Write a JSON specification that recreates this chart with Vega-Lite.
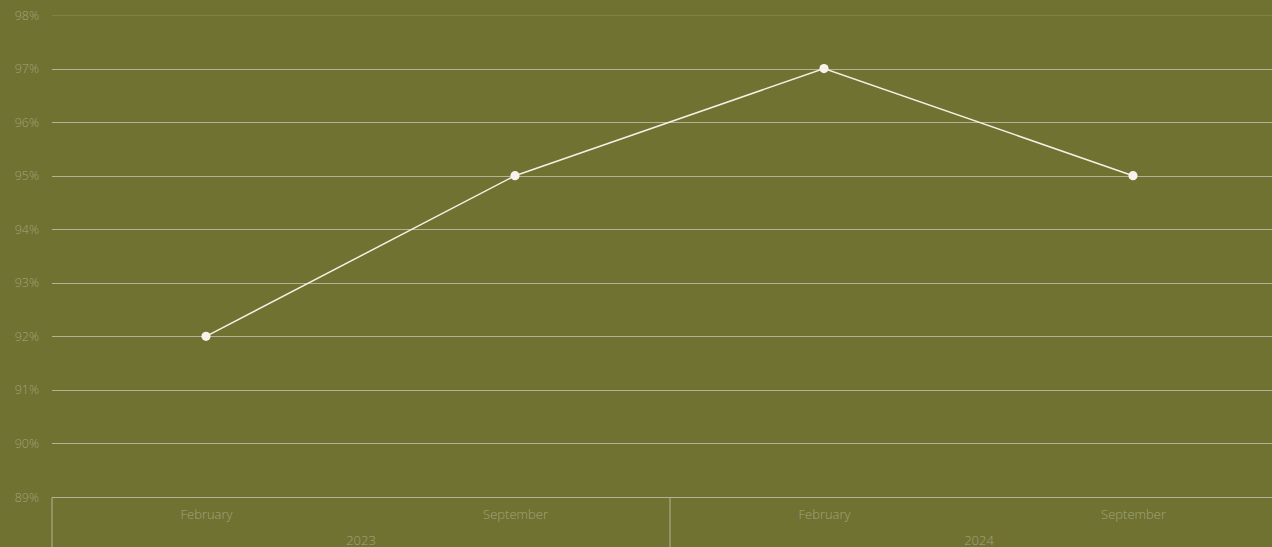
{
  "$schema": "https://vega.github.io/schema/vega-lite/v6.json",
  "autosize": "none",
  "width": 1236,
  "height": 482,
  "padding": {"left": 51.5, "top": 15, "right": 0, "bottom": 50},
  "background": "#6f7230",
  "config": {
    "view": {"stroke": null},
    "font": "Open Sans",
    "axis": {"labelFont": "Open Sans", "labelFontWeight": 300}
  },
  "data": {
    "values": [
      {"period": "February 2023", "year": "2023", "value": 0.92},
      {"period": "September 2023", "year": "2023", "value": 0.95},
      {"period": "February 2024", "year": "2024", "value": 0.97},
      {"period": "September 2024", "year": "2024", "value": 0.95}
    ]
  },
  "layer": [
    {
      "layer": [
        {
          "mark": {"type": "line", "stroke": "#f5f0e6", "strokeWidth": 1.5}
        },
        {
          "mark": {"type": "point", "filled": true, "fill": "#f7f3ec", "opacity": 1, "size": 85}
        }
      ],
      "encoding": {
        "x": {
          "field": "period", "type": "ordinal", "sort": null,
          "scale": {"type": "point", "padding": 0.5},
          "axis": {
            "title": null, "orient": "bottom", "domain": false, "ticks": false, "grid": false,
            "labelAngle": 0, "labelPadding": 11, "labelFontSize": 13, "labelColor": "#a2a47f",
            "labelExpr": "split(datum.label, ' ')[0]"
          }
        },
        "y": {
          "field": "value", "type": "quantitative",
          "scale": {"domain": [0.89, 0.98], "nice": false, "zero": false},
          "axis": {
            "title": null, "format": ".0%", "values": [0.89, 0.9, 0.91, 0.92, 0.93, 0.94, 0.95, 0.96, 0.97, 0.98],
            "domain": false, "ticks": false, "labelPadding": 13, "labelFontSize": 12.5, "labelColor": "#a2a47f",
            "gridColor": {"condition": {"test": "datum.value >= 0.98", "value": "#7f8442"}, "value": "#b2b497"},
            "gridWidth": 1
          }
        }
      }
    },
    {
      "mark": {"type": "point", "opacity": 0},
      "encoding": {
        "x": {
          "field": "year", "type": "ordinal",
          "scale": {"type": "band", "paddingInner": 0, "paddingOuter": 0},
          "axis": {
            "title": null, "orient": "bottom", "domain": false, "grid": false,
            "ticks": true, "tickBand": "extent", "tickSize": 60, "tickColor": "#b2b497", "tickWidth": 1,
            "labelAngle": 0, "labelPadding": -23, "labelFontSize": 13, "labelColor": "#a2a47f"
          }
        },
        "y": {"field": "value", "type": "quantitative"}
      }
    }
  ],
  "resolve": {"scale": {"x": "independent"}, "axis": {"x": "independent"}}
}
